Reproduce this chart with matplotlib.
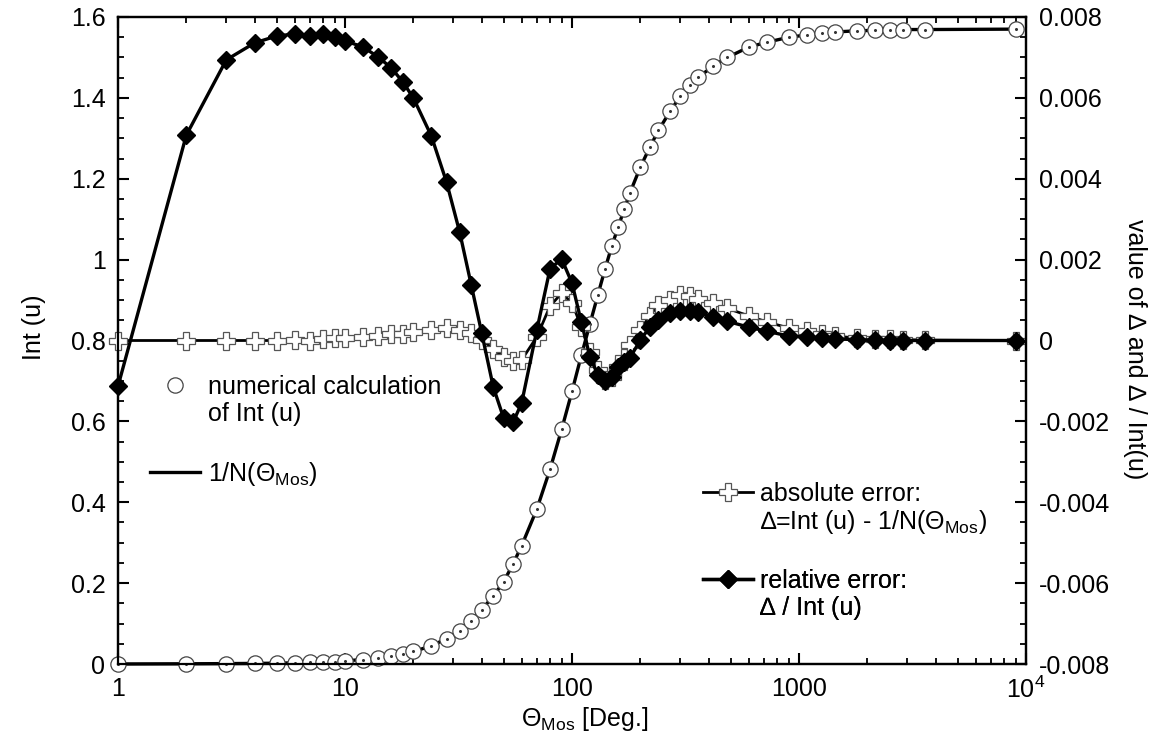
import matplotlib
matplotlib.use("Agg")
import matplotlib.pyplot as plt
import numpy as np
from matplotlib.lines import Line2D
from matplotlib.ticker import MultipleLocator, LogLocator, NullFormatter, FuncFormatter

# mosaic spread in degrees
theta = [1, 2, 3, 4, 5, 6, 7, 8, 9, 10,
         12, 14, 16, 18, 20, 24, 28, 32, 36, 40,
         45, 50, 55, 60, 70, 80, 90, 100, 110, 120,
         130, 140, 150, 160, 170, 180, 200, 220, 240, 270,
         300, 330, 360, 420, 480, 600, 720, 900, 1080, 1260,
         1440, 1800, 2160, 2520, 2880, 3600, 9000]

# numerical calculation of Int(u)
int_u = [0.0, 0.0005, 0.001, 0.0015, 0.002, 0.003, 0.004, 0.005, 0.006, 0.008,
         0.011, 0.015, 0.02, 0.025, 0.031, 0.045, 0.063, 0.082, 0.107, 0.134,
         0.168, 0.203, 0.247, 0.292, 0.383, 0.482, 0.581, 0.675, 0.764, 0.841,
         0.912, 0.977, 1.034, 1.081, 1.125, 1.165, 1.229, 1.278, 1.32, 1.367,
         1.405, 1.432, 1.452, 1.48, 1.50, 1.526, 1.538, 1.55, 1.556, 1.561,
         1.563, 1.566, 1.567, 1.568, 1.569, 1.569, 1.570]

# absolute error  Delta = Int(u) - 1/N
abs_err = [0.0, 0.0, 0.0, 0.0, 0.0, 0.00001, 0.0, 0.00004, 0.00006, 0.00006,
           0.00009, 0.00012, 0.00015, 0.00017, 0.0002, 0.00026, 0.0003, 0.00025, 0.00018, 0.00002,
           -0.00021, -0.00041, -0.0005, -0.00048, 0.00009, 0.00085, 0.00117, 0.00093, 0.00033, -0.00028,
           -0.00073, -0.00098, -0.0009, -0.00066, -0.00043, -0.00011, 0.00026, 0.00061, 0.00088, 0.001,
           0.00113, 0.0011, 0.00103, 0.00093, 0.0008, 0.00061, 0.00046, 0.00031, 0.00023, 0.00016,
           0.00011, 0.00006, 0.00004, 0.00003, 0.00002, 0.00001, 0.0]

# relative error  Delta / Int(u)
rel_err = [-0.00113, 0.00508, 0.00694, 0.00736, 0.00753, 0.00758, 0.00753, 0.00758, 0.00751, 0.00741,
           0.00726, 0.00701, 0.00674, 0.00639, 0.006, 0.00506, 0.00392, 0.00268, 0.00137, 0.00019,
           -0.00115, -0.00192, -0.00202, -0.00155, 0.00026, 0.00177, 0.00202, 0.00142, 0.00045, -0.00041,
           -0.00085, -0.001, -0.0009, -0.00066, -0.00053, -0.00043, 0.00001, 0.00033, 0.0005, 0.00068,
           0.00073, 0.00073, 0.0007, 0.00058, 0.00048, 0.00033, 0.00023, 0.00011, 0.00009, 0.00006,
           0.00004, 0.00002, 0.00001, 0.0, 0.0, 0.0, 0.0]

# analytic curve 1/N(Theta_Mos)
inv_n = np.array(int_u) - np.array(abs_err)

plt.rcParams["font.family"] = ["Liberation Sans", "DejaVu Sans"]
plt.rcParams["mathtext.fontset"] = "custom"
plt.rcParams["mathtext.rm"] = "Liberation Sans"
plt.rcParams["mathtext.it"] = "Liberation Sans:italic"
plt.rcParams["font.size"] = 18

W, H = 1152, 746
fig = plt.figure(figsize=(W / 100, H / 100), dpi=100)
x0, x1, y0, y1 = 118, 1026, 17, 664
ax = fig.add_axes([x0 / W, 1 - y1 / H, (x1 - x0) / W, (y1 - y0) / H])
ax2 = ax.twinx()

circ_style = dict(ls="none", marker="o", ms=11, mfc="white", mec="#444444", mew=0.9)
cross_style = dict(marker="P", ms=12.5, mfc="white", mec="#555555", mew=0.9)
dia_style = dict(marker="D", ms=9.5, mfc="black", mec="black")

ax.plot(theta, inv_n, color="black", lw=2.4, zorder=2, clip_on=False)
ax.plot(theta, int_u, zorder=3, clip_on=False, **circ_style)
ax.plot(theta, int_u, ls="none", marker="o", ms=1.2, color="#333333", zorder=4, clip_on=False)

ax2.plot(theta, abs_err, color="black", lw=2.0, clip_on=False, **cross_style)
ax2.plot(theta, rel_err, color="black", lw=2.4, clip_on=False, **dia_style)

ax.set_xscale("log")
ax.set_xlim(1, 1e4)
ax.set_xticks([1, 10, 100, 1000, 10000])
ax.set_xticklabels(["1", "10", "100", "1000", r"10$^4$"])
ax.xaxis.set_minor_locator(LogLocator(subs=range(2, 10)))
ax.xaxis.set_minor_formatter(NullFormatter())

fmt = FuncFormatter(lambda v, p: f"{round(v, 6) + 0.0:g}")
ax.set_ylim(0, 1.6)
ax.yaxis.set_major_locator(MultipleLocator(0.2))
ax.yaxis.set_minor_locator(MultipleLocator(0.05))
ax.yaxis.set_major_formatter(fmt)
ax2.set_ylim(-0.008, 0.008)
ax2.yaxis.set_major_locator(MultipleLocator(0.002))
ax2.yaxis.set_minor_locator(MultipleLocator(0.0005))
ax2.yaxis.set_major_formatter(fmt)

ax.tick_params(which="both", direction="in", top=True, right=False, width=1.5)
ax.tick_params(which="major", length=8, pad=9)
ax.tick_params(which="minor", length=4.5, width=1.3)
ax2.tick_params(which="both", direction="in", width=1.5)
ax2.tick_params(which="major", length=8, pad=9)
ax2.tick_params(which="minor", length=4.5, width=1.3)
for a in (ax, ax2):
    for s in a.spines.values():
        s.set_linewidth(1.6)

ax.set_ylabel("Int (u)", fontsize=18, ha="center", va="center")
ax.yaxis.set_label_coords(-0.092, 0.52)
ax.set_xlabel(r"Θ$_{\mathrm{Mos}}$ [Deg.]", fontsize=18, ha="center", va="center")
ax.xaxis.set_label_coords(0.514, -0.085)
ax2.set_ylabel("value of ∆ and ∆ / Int(u)", fontsize=18, rotation=270, ha="center", va="center")
ax2.yaxis.set_label_coords((1135 - x0) / (x1 - x0), 0.487)

blank = Line2D([], [], ls="none")
leg_kw = dict(loc="upper left", bbox_transform=fig.transFigure, frameon=False,
              borderpad=0, borderaxespad=0, handlelength=2.0, handletextpad=0.3,
              labelspacing=0.1, fontsize=18)

groups = [
    ([Line2D([], [], **circ_style), blank], ["numerical calculation", "of Int (u)"], (150, 375)),
    ([Line2D([], [], color="black", lw=2.4)], [r"1/N(Θ$_{\mathrm{Mos}}$)"], (150, 460)),
    ([Line2D([], [], color="black", lw=2.0, **cross_style), blank],
     ["absolute error:", r"∆=Int (u) - 1/N(Θ$_{\mathrm{Mos}}$)"], (703, 482)),
    ([Line2D([], [], color="black", lw=2.4, **dia_style), blank],
     ["relative error:", "∆ / Int (u)"], (703, 569)),
]
for handles, labels, (px, py) in groups:
    leg = ax2.legend(handles, labels, bbox_to_anchor=(px / W, 1 - py / H), **leg_kw)
    ax2.add_artist(leg)

fig.savefig("out.png", dpi=100, facecolor="white")
